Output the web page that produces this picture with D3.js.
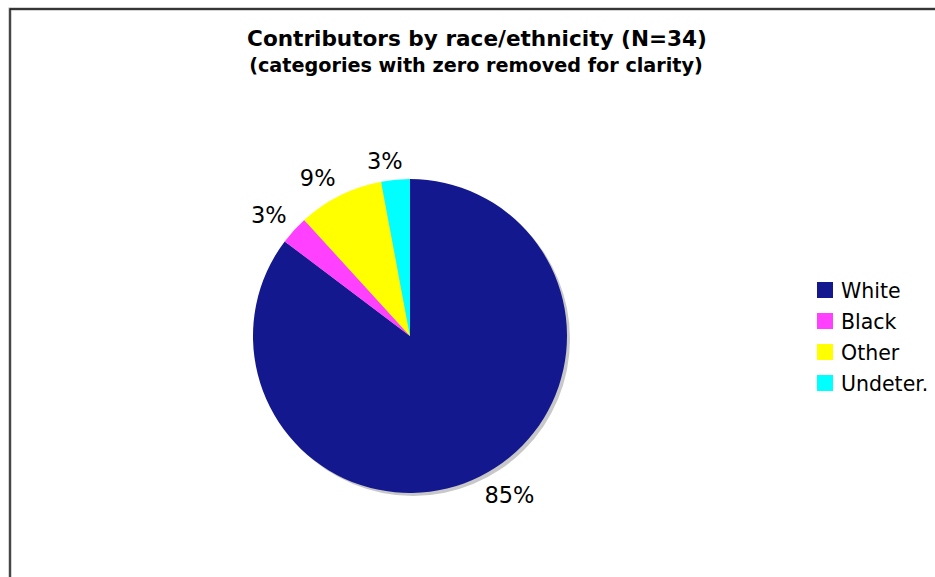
<!DOCTYPE html>
<html><head><meta charset="utf-8">
<script src="https://cdn.jsdelivr.net/npm/d3@7/dist/d3.min.js"></script>
<style>body{margin:0;background:#fff}svg{display:block}text{font-family:"DejaVu Sans",Verdana,sans-serif}</style>
</head><body>
<svg id="c" width="935" height="577"></svg>
<script>
const categories = ["White", "Black", "Other", "Undeter."];
const counts = [29, 1, 3, 1];
const percentLabels = ["85%", "3%", "9%", "3%"];
const colors = ["#14188f", "#ff40ff", "#ffff00", "#00ffff"];
const titleLines = ["Contributors by race/ethnicity (N=34)", "(categories with zero removed for clarity)"];

const svg = d3.select("#c");
// frame
svg.append("path").attr("d","M10,577 V9 H935").attr("fill","none").attr("stroke","#aaa").attr("stroke-width",3);
svg.append("path").attr("d","M10,577 V9 H935").attr("fill","none").attr("stroke","#111").attr("stroke-width",1.3);

// titles
const t1 = svg.append("text").attr("x",477).attr("y",46).attr("text-anchor","middle")
  .attr("font-weight","bold").attr("font-size",20).text(titleLines[0]);
const t2 = svg.append("text").attr("x",476).attr("y",72).attr("text-anchor","middle")
  .attr("font-weight","bold").attr("font-size",17).text(titleLines[1]);
function fit(sel, w){ const L = sel.node().getComputedTextLength(); const fs=+sel.attr("font-size"); sel.attr("font-size", fs*w/L); }
fit(t1, 460); fit(t2, 454);

const cx = 410, cy = 336, r = 157;
const pie = d3.pie().sort(null).value(d=>d)(counts);
const arc = d3.arc().innerRadius(0).outerRadius(r);
const g = svg.append("g").attr("transform",`translate(${cx},${cy})`);
g.append("circle").attr("cx",3).attr("cy",3).attr("r",r).attr("fill","#c8c8c8");
g.selectAll("path.s").data(pie).join("path").attr("class","s").attr("d",arc)
  .attr("fill",(d,i)=>colors[i]);

// labels
const lr = r + 10;
pie.forEach((d,i)=>{
  const a = (d.startAngle + d.endAngle)/2;
  const px = Math.sin(a)*lr, py = -Math.cos(a)*lr;
  const left = Math.sin(a) < 0, top = Math.cos(a) > 0;
  let x = px;
  if (Math.abs(Math.sin(a)) < 0.2) x = px + 8;
  g.append("text").attr("x", x).attr("y", top ? py - 1 : py + 18)
    .attr("text-anchor", left ? "end" : "start").attr("font-size",22.5).attr("fill","#000")
    .text(percentLabels[i]);
});

// legend
const lg = svg.append("g").attr("transform","translate(817,282)");
categories.forEach((c,i)=>{
  const y = i*31;
  lg.append("rect").attr("x",0).attr("y",y).attr("width",16).attr("height",16).attr("fill",colors[i]);
  lg.append("text").attr("x",24).attr("y",y+16).attr("font-size",20.5).text(c);
});
</script>
</body></html>
